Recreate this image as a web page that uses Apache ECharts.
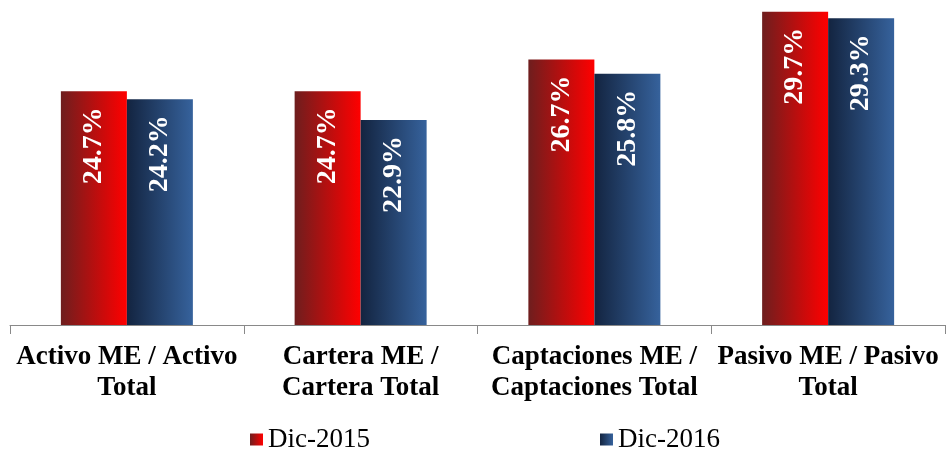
<!DOCTYPE html>
<html>
<head>
<meta charset="utf-8">
<script src="https://cdn.jsdelivr.net/npm/echarts@6/dist/echarts.min.js"></script>
<style>
  html, body { margin: 0; padding: 0; background: #fff; }
  #chart { width: 947px; height: 450px; }
</style>
</head>
<body>
<div id="chart"></div>
<script>
var categories = [
  'Activo ME / Activo\nTotal',
  'Cartera ME /\nCartera Total',
  'Captaciones ME /\nCaptaciones Total',
  'Pasivo ME / Pasivo\nTotal'
];
var seriesNames = ['Dic-2015', 'Dic-2016'];
var dic2015 = [24.7, 24.7, 26.7, 29.7];
var dic2016 = [24.2, 22.9, 25.8, 29.3];

(function() {
  var chart = echarts.init(document.getElementById('chart'));
  var font = '"Liberation Serif", "Times New Roman", serif';

  function grad(from, to) {
    return new echarts.graphic.LinearGradient(0, 0, 1, 0, [
      { offset: 0, color: from },
      { offset: 1, color: to }
    ]);
  }

  var barLabel = {
    show: true,
    position: 'insideTop',
    distance: 16,
    rotate: 90,
    align: 'right',
    verticalAlign: 'middle',
    color: '#fff',
    fontFamily: font,
    fontWeight: 'bold',
    fontSize: 28,
    formatter: function(p) {
      return p.value.toFixed(1) + '%';
    }
  };

  var option = {
    animation: false,
    grid: { left: 10, right: 2, top: 7, bottom: 125, containLabel: false },
    legend: {
      left: 245,
      top: 421,
      itemGap: 230,
      itemWidth: 13,
      itemHeight: 12,
      icon: 'rect',
      textStyle: { fontFamily: font, fontSize: 27, color: '#000' },
      data: seriesNames
    },
    xAxis: {
      type: 'category',
      data: categories,
      axisLine: { lineStyle: { color: '#898989', width: 1 } },
      axisTick: { show: true, length: 9, lineStyle: { color: '#898989' } },
      axisLabel: {
        interval: 0,
        margin: 17,
        fontFamily: font,
        fontWeight: 'bold',
        fontSize: 27,
        lineHeight: 31,
        color: '#000'
      }
    },
    yAxis: {
      type: 'value',
      min: 10,
      max: 30,
      show: false,
      splitLine: { show: false }
    },
    series: [{
      name: seriesNames[0],
      type: 'bar',
      data: dic2015,
      barWidth: 66,
      barGap: '0%',
      itemStyle: { color: grad('#6e1e1e', '#ff0000') },
      label: barLabel
    }, {
      name: seriesNames[1],
      type: 'bar',
      data: dic2016,
      barWidth: 66,
      itemStyle: { color: grad('#132440', '#36629c') },
      label: barLabel
    }]
  };
  chart.setOption(option);
})();
</script>
</body>
</html>
